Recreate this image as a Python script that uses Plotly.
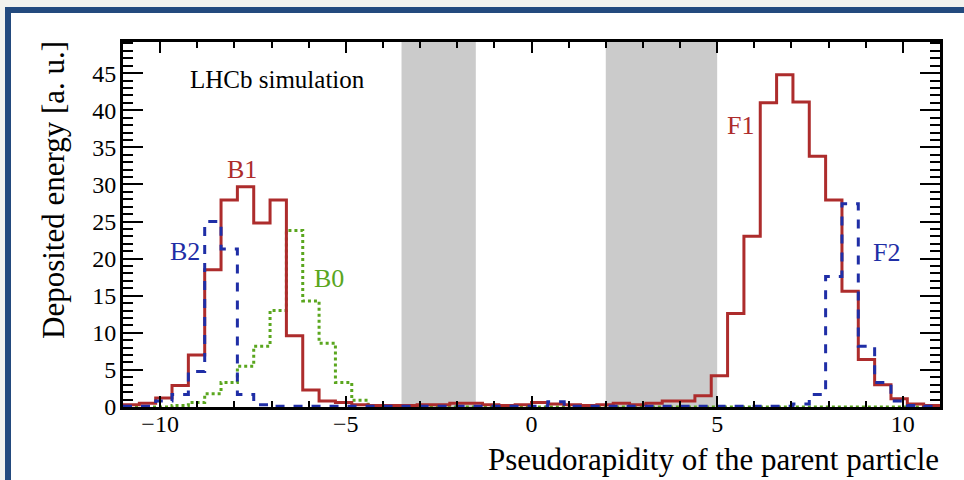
import plotly.graph_objects as go

# ---------------- data ----------------
BIN_LO = -11.0
BIN_HI = 11.0
N_BINS = 50

# B1 (backward) and F1 (forward) -- solid red
red_vals = [0.3, 0.5, 1.2, 2.9, 7.0, 18.5, 27.9, 29.7, 24.8, 27.9,
            9.6, 2.3, 0.8, 0.6, 0.3, 0.2, 0.2, 0.2, 0.3, 0.3,
            0.5, 0.5, 0.3, 0.2, 0.3, 0.6, 0.4, 0.3, 0.2, 0.3,
            0.5, 0.3, 0.5, 0.8, 0.8, 1.5, 4.2, 12.6, 23.0, 41.0,
            44.8, 41.1, 33.8, 27.9, 15.6, 6.4, 3.0, 1.1, 0.4, 0.2]
# B2 and F2 -- dashed blue
blue_vals = [0.1, 0.1, 0.8, 1.7, 4.8, 25.0, 21.3, 1.7, 0.3, 0.1,
             0.1, 0.1, 0.1, 0.1, 0.1, 0.1, 0.1, 0.1, 0.1, 0.1,
             0.1, 0.1, 0.1, 0.1, 0.1, 0.1, 0.7, 0.1, 0.1, 0.1,
             0.1, 0.1, 0.1, 0.1, 0.1, 0.1, 0.1, 0.1, 0.1, 0.1,
             0.1, 0.4, 1.7, 17.6, 27.4, 8.2, 3.3, 0.8, 0.2, 0.1]
# B0 -- dotted green
green_vals = [0.0, 0.0, 0.0, 0.2, 0.6, 1.8, 3.3, 5.5, 8.2, 13.0,
              23.8, 14.3, 8.6, 3.3, 0.9, 0.2, 0.0, 0.0, 0.0, 0.0,
              0.0, 0.0, 0.0, 0.0, 0.0, 0.0, 0.0, 0.0, 0.0, 0.0,
              0.0, 0.0, 0.0, 0.0, 0.0, 0.0, 0.0, 0.0, 0.0, 0.0,
              0.0, 0.0, 0.0, 0.0, 0.0, 0.0, 0.0, 0.0, 0.0, 0.0]

# blind (uninstrumented) regions
gap_regions = [(-3.5, -1.5), (2.0, 5.0)]

# labels: (text, x, y, color key)
labels = [("B1", -7.80, 32.0, "red"), ("B2", -9.34, 21.0, "blue"),
          ("B0", -5.44, 17.3, "green"), ("F1", 5.64, 37.9, "red"),
          ("F2", 9.57, 20.8, "blue")]

x_title = "Pseudorapidity of the parent particle"
y_title = "Deposited energy [a. u.]"
sim_label = "LHCb simulation"

# ---------------- styling ----------------
COL = {"red": "#ad2c2c", "blue": "#1f2ea6", "green": "#5aa61e"}
FONT = "Liberation Serif"

width_bin = (BIN_HI - BIN_LO) / N_BINS
edges = [BIN_LO + width_bin * i for i in range(N_BINS + 1)]


def step(vals):
    return edges, list(vals) + [vals[-1]]


fig = go.Figure()
for vals, key, dash in [(green_vals, "green", "dot"), (red_vals, "red", "solid"),
                        (blue_vals, "blue", "dash")]:
    xs, ys = step(vals)
    fig.add_trace(go.Scatter(x=xs, y=ys, mode="lines", line_shape="hv",
                             line=dict(color=COL[key], width=3, dash=dash),
                             showlegend=False, hoverinfo="skip"))

L, R, T, B = 123, 24, 42, 73
PW, PH = 964 - L - R, 480 - T - B


def px2paper_x(px):
    return (px - L) / PW


def px2paper_y(py):
    return (480 - B - py) / PH


shapes = [dict(type="rect", xref="paper", yref="paper",
               x0=px2paper_x(8), x1=px2paper_x(1010),
               y0=px2paper_y(530), y1=px2paper_y(10),
               fillcolor="white", line=dict(color="#234a7e", width=6),
               layer="below")]
for a, b in gap_regions:
    shapes.append(dict(type="rect", xref="x", yref="paper", x0=a, x1=b, y0=0, y1=1,
                       fillcolor="#cbcbcb", line=dict(width=0), layer="below"))

annotations = []
for text, x, y, key in labels:
    annotations.append(dict(text=text, x=x, y=y, xref="x", yref="y", showarrow=False,
                            font=dict(family=FONT, size=26, color=COL[key])))
annotations.append(dict(text=sim_label, x=-6.83, y=44.2, xref="x", yref="y",
                        showarrow=False, font=dict(family=FONT, size=25, color="black")))
annotations.append(dict(text=x_title, x=px2paper_x(941), y=px2paper_y(459),
                        xref="paper", yref="paper", xanchor="right", yanchor="middle",
                        showarrow=False, font=dict(family=FONT, size=31, color="black")))
annotations.append(dict(text=y_title, x=px2paper_x(53), y=px2paper_y(190),
                        xref="paper", yref="paper", xanchor="center", yanchor="middle",
                        textangle=-90, showarrow=False,
                        font=dict(family=FONT, size=31, color="black")))

axis_common = dict(tick0=0, dtick=5, ticks="inside", tickwidth=2, tickcolor="black",
                   showline=True, linewidth=3, linecolor="black", mirror="allticks",
                   showgrid=False, zeroline=False, tickfont=dict(family=FONT, size=24))

fig.update_layout(
    width=964, height=480,
    margin=dict(l=L, r=R, t=T, b=B),
    paper_bgcolor="#f2f2ee", plot_bgcolor="rgba(0,0,0,0)",
    font=dict(family=FONT, size=24, color="black"),
    shapes=shapes, annotations=annotations,
    xaxis=dict(range=[BIN_LO, BIN_HI], ticklen=11, ticklabelstandoff=-7,
               minor=dict(dtick=1, ticks="inside", ticklen=6, tickwidth=2,
                          tickcolor="black", showgrid=False),
               **axis_common),
    yaxis=dict(range=[0, 49.2], ticklen=20, ticklabelstandoff=-1,
               minor=dict(dtick=1, ticks="inside", ticklen=10, tickwidth=2,
                          tickcolor="black", showgrid=False),
               **axis_common),
)

fig.write_html("out.html")
